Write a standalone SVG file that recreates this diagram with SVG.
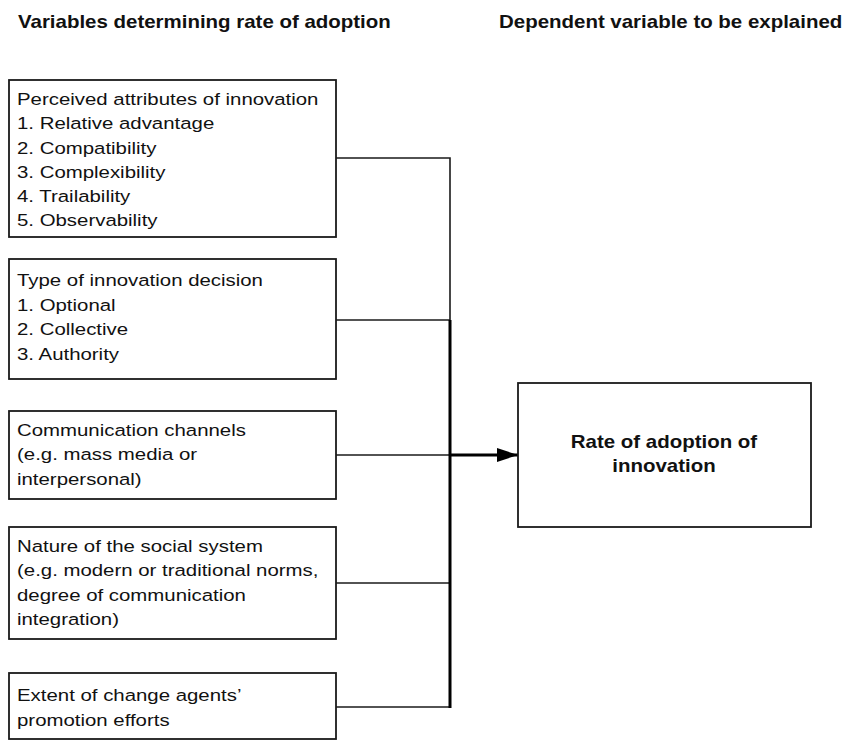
<svg xmlns="http://www.w3.org/2000/svg" width="842" height="740" viewBox="0 0 842 740">
<style>
.box{fill:#fff;stroke:#1a1a1a;stroke-width:1.8}
.t{font-family:"Liberation Sans",Arial,sans-serif;font-size:17px;fill:#111}
.b{font-family:"Liberation Sans",Arial,sans-serif;font-size:18.6px;font-weight:bold;fill:#111}
.c{fill:none;stroke:#1a1a1a;stroke-width:1.6}
.thick{fill:none;stroke:#000;stroke-width:3}
</style>
<defs>
<marker id="ah" markerUnits="userSpaceOnUse" markerWidth="22" markerHeight="14" refX="21" refY="7" orient="auto">
<path d="M0,0 L21,7 L0,14 Z" fill="#000"/>
</marker>
</defs>
<rect width="842" height="740" fill="#fff"/>
<g id="headers">
<text class="b" transform="translate(18,28) scale(1.1,1)">Variables determining rate of adoption</text>
<text class="b" transform="translate(499,28) scale(1.1,1)">Dependent variable to be explained</text>
</g>
<g id="connectors">
<path class="c" d="M336,158 H450 V320"/>
<path class="c" d="M336,320 H450"/>
<path class="c" d="M336,455 H450"/>
<path class="c" d="M336,583 H450"/>
<path class="c" d="M336,707 H450"/>
<path class="thick" d="M450,320 V708"/>
<path class="thick" d="M450,455 H518" marker-end="url(#ah)"/>
</g>
<g id="n1">
<rect class="box" x="9" y="80" width="327" height="157"/>
<text class="t" transform="translate(17,104.5) scale(1.2,1)">Perceived attributes of innovation</text>
<text class="t" transform="translate(17,129) scale(1.2,1)">1. Relative advantage</text>
<text class="t" transform="translate(17,153.5) scale(1.2,1)">2. Compatibility</text>
<text class="t" transform="translate(17,178) scale(1.2,1)">3. Complexibility</text>
<text class="t" transform="translate(17,202) scale(1.2,1)">4. Trailability</text>
<text class="t" transform="translate(17,226) scale(1.2,1)">5. Observability</text>
</g>
<g id="n2">
<rect class="box" x="9" y="259" width="327" height="120"/>
<text class="t" transform="translate(17,286) scale(1.2,1)">Type of innovation decision</text>
<text class="t" transform="translate(17,310.5) scale(1.2,1)">1. Optional</text>
<text class="t" transform="translate(17,335) scale(1.2,1)">2. Collective</text>
<text class="t" transform="translate(17,359.5) scale(1.2,1)">3. Authority</text>
</g>
<g id="n3">
<rect class="box" x="9" y="411" width="327" height="88"/>
<text class="t" transform="translate(17,435.5) scale(1.2,1)">Communication channels</text>
<text class="t" transform="translate(17,460) scale(1.2,1)">(e.g. mass media or</text>
<text class="t" transform="translate(17,484.5) scale(1.2,1)">interpersonal)</text>
</g>
<g id="n4">
<rect class="box" x="9" y="527" width="327" height="112"/>
<text class="t" transform="translate(17,551.5) scale(1.2,1)">Nature of the social system</text>
<text class="t" transform="translate(17,576) scale(1.2,1)">(e.g. modern or traditional norms,</text>
<text class="t" transform="translate(17,600.5) scale(1.2,1)">degree of communication</text>
<text class="t" transform="translate(17,625) scale(1.2,1)">integration)</text>
</g>
<g id="n5">
<rect class="box" x="9" y="673" width="327" height="66"/>
<text class="t" transform="translate(17,701) scale(1.2,1)">Extent of change agents’</text>
<text class="t" transform="translate(17,725.5) scale(1.2,1)">promotion efforts</text>
</g>
<g id="n6">
<rect class="box" x="518" y="383" width="293" height="144"/>
<text class="b" text-anchor="middle" transform="translate(664,448.3) scale(1.1,1)">Rate of adoption of</text>
<text class="b" text-anchor="middle" transform="translate(664,471.7) scale(1.1,1)">innovation</text>
</g>
</svg>
